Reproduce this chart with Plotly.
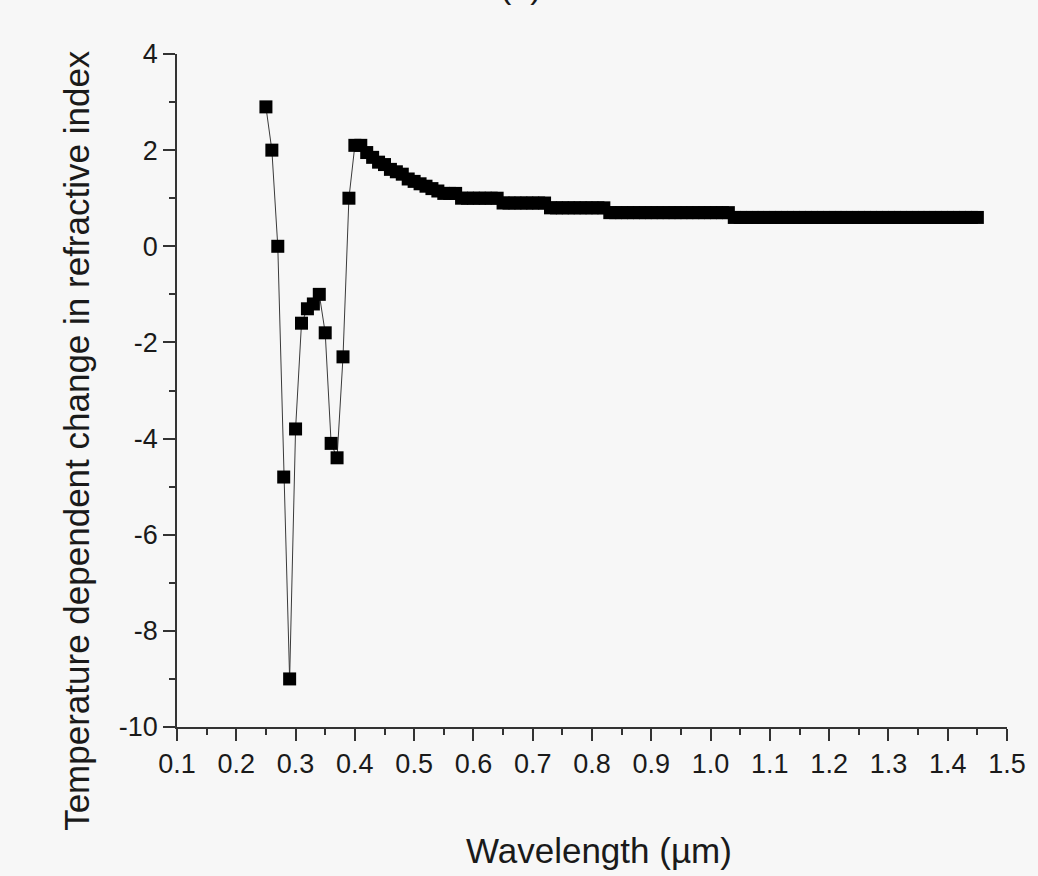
import plotly.graph_objects as go

wavelength = [round(0.25 + 0.01 * i, 2) for i in range(121)]

dn_dT = [
    2.9, 2.0, 0.0, -4.8, -9.0, -3.8, -1.6, -1.3, -1.2, -1.0,
    -1.8, -4.1, -4.4, -2.3, 1.0, 2.1, 2.1, 1.95, 1.85, 1.75,
    1.7, 1.6, 1.55, 1.5, 1.4, 1.35, 1.3, 1.25, 1.2, 1.15,
    1.1, 1.1, 1.1, 1.0, 1.0, 1.0, 1.0, 1.0, 1.0, 1.0,
    0.9, 0.9, 0.9, 0.9, 0.9, 0.9, 0.9, 0.9, 0.8, 0.8,
    0.8, 0.8, 0.8, 0.8, 0.8, 0.8, 0.8, 0.8, 0.7, 0.7,
    0.7, 0.7, 0.7, 0.7, 0.7, 0.7, 0.7, 0.7, 0.7, 0.7,
    0.7, 0.7, 0.7, 0.7, 0.7, 0.7, 0.7, 0.7, 0.7, 0.6,
    0.6, 0.6, 0.6, 0.6, 0.6, 0.6, 0.6, 0.6, 0.6, 0.6,
    0.6, 0.6, 0.6, 0.6, 0.6, 0.6, 0.6, 0.6, 0.6, 0.6,
    0.6, 0.6, 0.6, 0.6, 0.6, 0.6, 0.6, 0.6, 0.6, 0.6,
    0.6, 0.6, 0.6, 0.6, 0.6, 0.6, 0.6, 0.6, 0.6, 0.6,
    0.6,
]

x_ticks = [0.1, 0.2, 0.3, 0.4, 0.5, 0.6, 0.7, 0.8, 0.9, 1.0, 1.1, 1.2, 1.3, 1.4, 1.5]
x_tick_labels = ["0.1", "0.2", "0.3", "0.4", "0.5", "0.6", "0.7", "0.8", "0.9", "1.0",
                 "1.1", "1.2", "1.3", "1.4", "1.5"]
y_ticks = [-10, -8, -6, -4, -2, 0, 2, 4]
y_tick_labels = ["-10", "-8", "-6", "-4", "-2", "0", "2", "4"]

x_title = "Wavelength (µm)"
y_title = "Temperature dependent change in refractive index"
panel_label = "(a)"

FONT = "Liberation Sans, Arial, sans-serif"
BG = "#f7f7f7"
AX = "#333333"
TXT = "#1a1a1a"

fig = go.Figure()
fig.add_trace(go.Scatter(
    x=wavelength, y=dn_dT, mode="lines+markers",
    line=dict(color="#3a3a3a", width=1),
    marker=dict(symbol="square", size=13, color="black", line=dict(width=0)),
    showlegend=False,
))

fig.update_layout(
    width=1038, height=876,
    margin=dict(l=177, r=20, t=54, b=149),
    paper_bgcolor=BG, plot_bgcolor=BG,
    font=dict(family=FONT, color=TXT, size=22),
    xaxis=dict(
        range=[0.1, 1.5], tickmode="array", tickvals=x_ticks, ticktext=x_tick_labels,
        showgrid=False, zeroline=False, showline=True, linecolor=AX, linewidth=1.5,
        ticks="outside", ticklen=12, tickwidth=1.5, tickcolor=AX,
        tickfont=dict(size=27, family=FONT, color=TXT),
        minor=dict(dtick=0.05, tick0=0.1, ticks="outside", ticklen=6, tickwidth=1.5,
                   tickcolor=AX, showgrid=False),
    ),
    yaxis=dict(
        range=[-10, 4], tickmode="array", tickvals=y_ticks, ticktext=y_tick_labels,
        showgrid=False, zeroline=False, showline=True, linecolor=AX, linewidth=1.5,
        ticks="outside", ticklen=12, tickwidth=1.5, tickcolor=AX,
        tickfont=dict(size=27, family=FONT, color=TXT),
        minor=dict(dtick=1, tick0=-10, ticks="outside", ticklen=6, tickwidth=1.5,
                   tickcolor=AX, showgrid=False),
    ),
    annotations=[
        dict(text=x_title, xref="paper", yref="paper", x=0.509, y=-0.183,
             xanchor="center", yanchor="middle", showarrow=False,
             font=dict(size=35, family=FONT, color=TXT)),
        dict(text=y_title, xref="paper", yref="paper", x=-0.121, y=0.426,
             xanchor="center", yanchor="middle", textangle=-90, showarrow=False,
             font=dict(size=35, family=FONT, color=TXT)),
        dict(text=panel_label, xref="paper", yref="paper", x=0.414, y=1.07,
             xanchor="center", yanchor="bottom", showarrow=False,
             font=dict(size=34, family=FONT, color=TXT)),
    ],
)

fig.write_html(
    "out.html",
    config={"displayModeBar": False},
    post_script="document.body.style.margin='0';document.body.style.background='#f7f7f7';",
)
